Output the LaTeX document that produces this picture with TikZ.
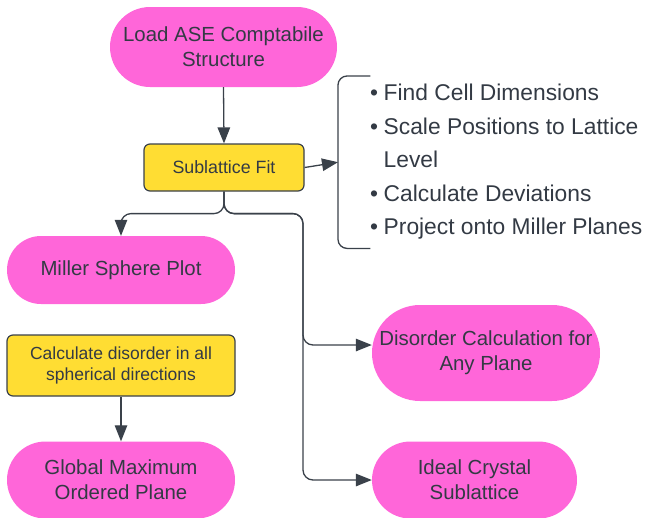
\documentclass[tikz,border=0pt]{standalone}
\usepackage{fontspec}
\setmainfont{Liberation Sans}
\usetikzlibrary{arrows.meta,shapes.misc,calc}
\definecolor{pinkfill}{HTML}{FF66D9}
\definecolor{yel}{HTML}{FFDD33}
\definecolor{txt}{HTML}{333A44}
\definecolor{ln}{HTML}{3A414A}
\begin{document}
\begin{tikzpicture}[x=1pt,y=-1pt,
  pill/.style={rounded rectangle, fill=pinkfill, draw=none, text=txt, align=center, inner sep=0pt, font=\fontsize{20.4}{25}\selectfont},
  ybox/.style={rectangle, rounded corners=6pt, fill=yel, draw=ln, line width=1.2pt, text=txt, align=center, inner sep=0pt},
  arr/.style={draw=ln, line width=1.3pt, rounded corners=10pt, -{Triangle[length=16pt,width=12.5pt]}},
  brk/.style={draw=ln, line width=1.3pt, rounded corners=9pt}]
\useasboundingbox (0,0) rectangle (647,517);

\node[pill, minimum width=227pt, minimum height=80pt] (top) at (223.5,47) {Load ASE Comptabile\\Structure};
\node[ybox, minimum width=160pt, minimum height=47pt, font=\fontsize{17.8}{21}\selectfont] (sub) at (224,167.5) {Sublattice Fit};
\node[pill, minimum width=228pt, minimum height=68pt] (miller) at (121,270) {Miller Sphere Plot};
\node[ybox, minimum width=228pt, minimum height=61pt, font=\fontsize{17.5}{21}\selectfont] (calc) at (121,365.5) {Calculate disorder in all\\spherical directions};
\node[pill, minimum width=228pt, minimum height=77pt] (global) at (121,480) {Global Maximum\\Ordered Plane};
\node[pill, minimum width=228pt, minimum height=96pt] (disorder) at (486,353) {Disorder Calculation for\\Any Plane};
\node[pill, minimum width=205pt, minimum height=77pt] (ideal) at (474.5,480) {Ideal Crystal\\Sublattice};

% bracket with bullet list
\node[minimum width=32pt, minimum height=172pt, inner sep=0pt, anchor=north west] (bracket) at (338,76) {};
\draw[brk] (bracket.north east) -- (bracket.north west) -- (bracket.south west) -- (bracket.south east);
\node[anchor=north west, inner sep=0pt, align=left, text=txt, font=\fontsize{22.8}{33.4}\selectfont] (list) at (370,84.2)
  {\makebox[13.5pt][l]{•}Find Cell Dimensions\\
   \makebox[13.5pt][l]{•}Scale Positions to Lattice\\
   \hspace*{13.5pt}Level\\
   \makebox[13.5pt][l]{•}Calculate Deviations\\
   \makebox[13.5pt][l]{•}Project onto Miller Planes};

\coordinate (bus) at (303,0);

\draw[arr] (top.south) -- (sub.north);
\draw[arr] (sub.east) -- (bracket.west);
\draw[arr] (sub.south) -- ++(0,22) -| (miller.north);
\draw[arr] (sub.south) -- ++(0,22) -| ([yshift=8pt]disorder.west -| bus) -- ([yshift=8pt]disorder.west);
\draw[arr] (sub.south) -- ++(0,22) -| (ideal.west -| bus) -- (ideal.west);
\draw[arr] (calc.south) -- (global.north);
\end{tikzpicture}
\end{document}
